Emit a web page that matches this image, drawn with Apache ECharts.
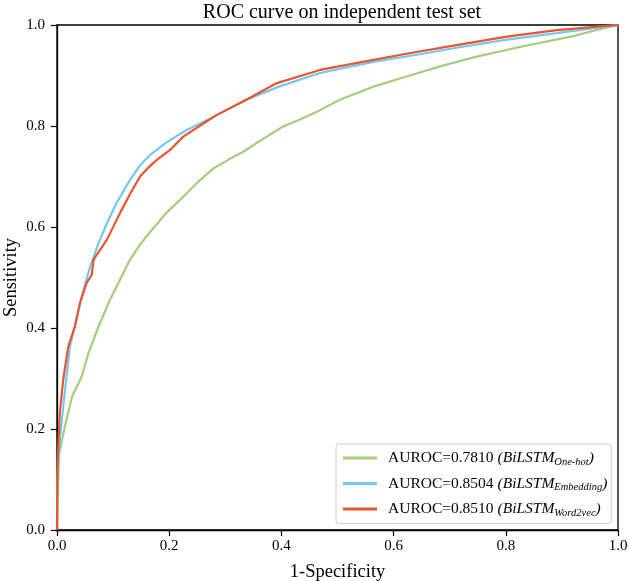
<!DOCTYPE html>
<html>
<head>
<meta charset="utf-8">
<script src="https://cdn.jsdelivr.net/npm/echarts@6/dist/echarts.min.js"></script>
<style>html,body{margin:0;padding:0;background:#fff}#c{width:629px;height:581px}</style>
</head>
<body>
<div id="c"></div>
<script>
const titleText = 'ROC curve on independent test set';
const xName = '1-Specificity';
const yName = 'Sensitivity';
const tickValues = [0, 0.2, 0.4, 0.6, 0.8, 1.0];

const seriesNames = ['One-hot', 'Embedding', 'Word2vec'];
const aurocValues = ['0.7810', '0.8504', '0.8510'];
const seriesColors = ['#a5cd7e', '#74c7f2', '#e8562d'];

const oneHotFpr = [0, 0.0005, 0.004, 0.009, 0.014, 0.027, 0.044, 0.056, 0.074, 0.094, 0.112, 0.13, 0.148, 0.166, 0.195, 0.225, 0.252, 0.279, 0.305, 0.332, 0.368, 0.403, 0.433, 0.463, 0.504, 0.564, 0.623, 0.683, 0.742, 0.831, 0.92, 0.962, 1];
const oneHotTpr = [0, 0.046, 0.152, 0.178, 0.205, 0.265, 0.304, 0.35, 0.403, 0.455, 0.495, 0.535, 0.565, 0.59, 0.628, 0.66, 0.69, 0.716, 0.733, 0.749, 0.775, 0.799, 0.813, 0.828, 0.852, 0.878, 0.898, 0.918, 0.936, 0.958, 0.978, 0.99, 1];

const embFpr = [0, 0.0005, 0.005, 0.011, 0.017, 0.023, 0.034, 0.047, 0.059, 0.074, 0.09, 0.106, 0.13, 0.148, 0.166, 0.196, 0.231, 0.255, 0.296, 0.344, 0.398, 0.469, 0.564, 0.652, 0.712, 0.802, 0.891, 1];
const embTpr = [0, 0.1, 0.178, 0.244, 0.304, 0.363, 0.416, 0.475, 0.521, 0.568, 0.61, 0.647, 0.693, 0.722, 0.743, 0.768, 0.792, 0.805, 0.828, 0.855, 0.879, 0.905, 0.927, 0.943, 0.955, 0.971, 0.984, 1];

const w2vFpr = [0, 0.001, 0.005, 0.011, 0.02, 0.032, 0.041, 0.053, 0.062, 0.065, 0.077, 0.089, 0.112, 0.13, 0.148, 0.163, 0.178, 0.201, 0.225, 0.261, 0.285, 0.344, 0.392, 0.469, 0.564, 0.623, 0.712, 0.802, 0.891, 1];
const w2vTpr = [0, 0.13, 0.232, 0.297, 0.363, 0.403, 0.45, 0.49, 0.505, 0.535, 0.555, 0.575, 0.627, 0.665, 0.70, 0.718, 0.733, 0.752, 0.779, 0.805, 0.822, 0.856, 0.885, 0.911, 0.931, 0.943, 0.960, 0.977, 0.990, 1];

const FONT = '"Liberation Serif", "Times New Roman", serif';
const zip = (a, b) => a.map((v, i) => [v, b[i]]);
const allData = [zip(oneHotFpr, oneHotTpr), zip(embFpr, embTpr), zip(w2vFpr, w2vTpr)];

const chart = echarts.init(document.getElementById('c'), null, {renderer: 'canvas'});

const axisCommon = {
  type: 'value', min: 0, max: 1, interval: 0.2,
  axisLine: {show: true, lineStyle: {color: '#000', width: 1.3}},
  axisTick: {show: true, length: 6, lineStyle: {color: '#000', width: 1.2}},
  axisLabel: {color: '#000', fontFamily: FONT, fontSize: 15, formatter: v => v.toFixed(1)},
  splitLine: {show: false},
  nameLocation: 'middle',
  nameMoveOverlap: false,
  nameTextStyle: {color: '#000', fontFamily: FONT, fontSize: 18.5}
};

chart.setOption({
  backgroundColor: '#fff',
  animation: false,
  title: {
    text: titleText, left: 337, top: -2, textAlign: 'center',
    textStyle: {color: '#000', fontFamily: FONT, fontSize: 20, fontWeight: 'normal'}
  },
  grid: {left: 57, right: 11, top: 25, bottom: 51, outerBoundsMode: 'none', containLabel: false, show: true, borderColor: '#000', borderWidth: 1.3, backgroundColor: 'transparent'},
  xAxis: Object.assign({}, axisCommon, {name: xName, nameGap: 33, axisLabel: Object.assign({}, axisCommon.axisLabel, {margin: 9})}),
  yAxis: Object.assign({}, axisCommon, {name: yName, nameGap: 36, axisLabel: Object.assign({}, axisCommon.axisLabel, {margin: 12})}),
  legend: {
    orient: 'vertical', left: 336, top: 444,
    padding: [5, 4, 5, 7], itemGap: 7,
    itemWidth: 34, itemHeight: 3,
    backgroundColor: '#fff', borderColor: '#d0d0d0', borderWidth: 1, borderRadius: 3,
    icon: 'rect',
    data: seriesNames.map(n => ({name: n})),
    formatter: function (name) {
      const i = seriesNames.indexOf(name);
      return '{t|AUROC=' + aurocValues[i] + '} {i|(BiLSTM}{s|' + name + '}{i|)}';
    },
    textStyle: {
      color: '#000', fontFamily: FONT, fontSize: 15.5, lineHeight: 18,
      rich: {
        t: {fontFamily: FONT, fontSize: 15.5, color: '#000', padding: [0, 0, 0, 6]},
        i: {fontFamily: FONT, fontSize: 15.5, fontStyle: 'italic', color: '#000'},
        s: {fontFamily: FONT, fontSize: 10.5, fontStyle: 'italic', color: '#000', padding: [8, 0, 0, 0]}
      }
    }
  },
  series: allData.map((d, i) => ({
    name: seriesNames[i], type: 'line', data: d, showSymbol: false, symbol: 'none',
    lineStyle: {color: seriesColors[i], width: 2.2}, itemStyle: {color: seriesColors[i]},
    z: 2 + i
  }))
});
</script>
</body>
</html>
